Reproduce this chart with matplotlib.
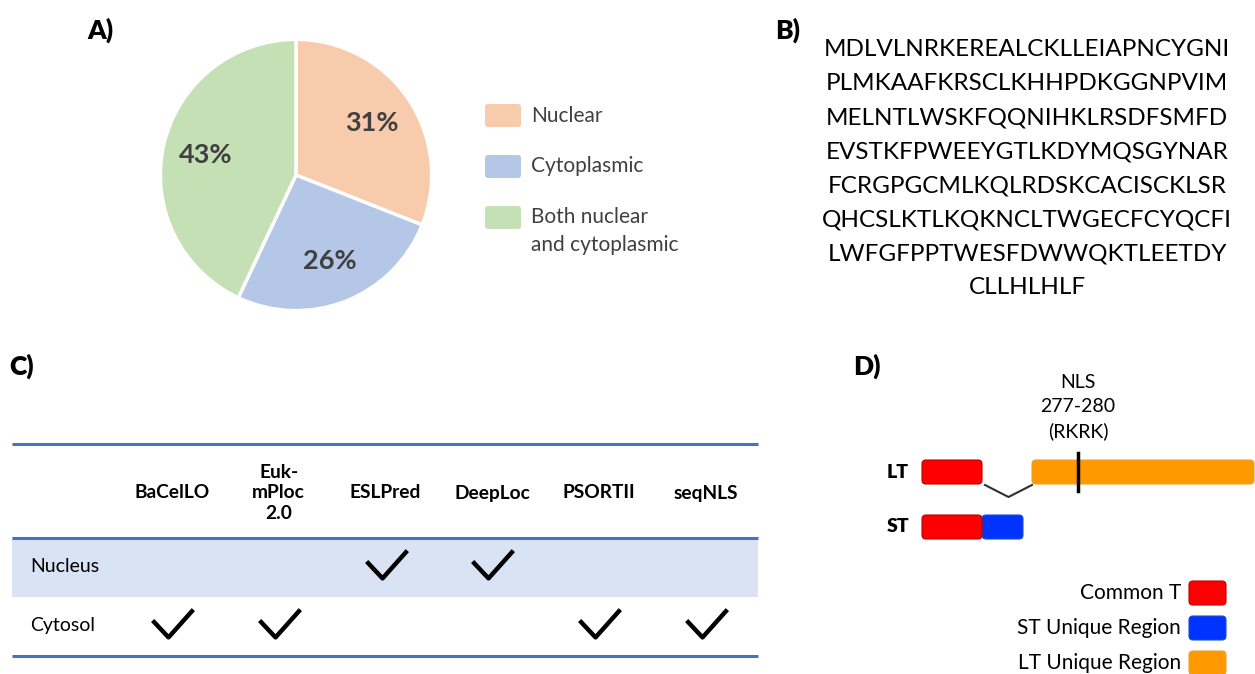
import numpy as np
import matplotlib.pyplot as plt
from matplotlib.patches import FancyBboxPatch, Rectangle
from matplotlib.path import Path

plt.rcParams['font.family'] = ['Lato', 'DejaVu Sans']

# --- A) subcellular distribution (pie) ---
pie_labels = ['Nuclear', 'Cytoplasmic', 'Both nuclear\nand cytoplasmic']
pie_values = [31, 26, 43]
pie_colors = ['#F8CBAD', '#B4C7E7', '#C5E0B4']

# --- B) protein sequence ---
seq_lines = [
    'MDLVLNRKEREALCKLLEIAPNCYGNI',
    'PLMKAAFKRSCLKHHPDKGGNPVIM',
    'MELNTLWSKFQQNIHKLRSDFSMFD',
    'EVSTKFPWEEYGTLKDYMQSGYNAR',
    'FCRGPGCMLKQLRDSKCACISCKLSR',
    'QHCSLKTLKQKNCLTWGECFCYQCFI',
    'LWFGFPPTWESFDWWQKTLEETDY',
    'CLLHLHLF',
]

# --- C) localisation predictions ---
tools = ['BaCelLO', 'Euk-\nmPloc\n2.0', 'ESLPred', 'DeepLoc', 'PSORTII', 'seqNLS']
locations = ['Nucleus', 'Cytosol']
predicted = [[0, 0, 1, 1, 0, 0],
             [1, 1, 0, 0, 1, 1]]

# --- D) T antigen schematic (schematic units) ---
region_names = ['Common T', 'ST Unique Region', 'LT Unique Region']
region_colors = ['#FF0000', '#0033FF', '#FF9900']
region_edges = ['#C00000', '#1A4FD0', '#F0A030']
lt_parts = [(0, 60, 0), (110, 332, 2)]   # start, end, region index
st_parts = [(0, 60, 0), (60, 101, 1)]
nls_pos = 156
nls_text = 'NLS\n277-280\n(RKRK)'

fig = plt.figure(figsize=(12.55, 6.74), dpi=100)
ax = fig.add_axes([0, 0, 1, 1])
ax.set_xlim(0, 1255)
ax.set_ylim(674, 0)
ax.axis('off')

# panel letters
for lab, x, y in [('A)', 87, 30), ('B)', 775, 30), ('C)', 9, 366), ('D)', 853, 366)]:
    ax.text(x, y, lab, fontsize=19, fontweight='heavy', ha='left', va='center')

# ---------------- A ----------------
axp = fig.add_axes([159 / 1255, (674 - 312) / 674, 274 / 1255, 274 / 674])
axp.pie(pie_values, colors=pie_colors, startangle=90, counterclock=False,
        autopct=lambda p: f'{p:.0f}%', pctdistance=0.68,
        wedgeprops=dict(edgecolor='white', linewidth=2.5),
        textprops=dict(fontsize=19.5, fontweight='bold', color='#404040'))
axp.set_xlim(-1.01, 1.01)
axp.set_ylim(-1.01, 1.01)
axp.set_aspect('equal')

for i, (lab, col) in enumerate(zip(pie_labels, pie_colors)):
    yt = 104 + i * 51
    ax.add_patch(FancyBboxPatch((485, yt), 36, 23, boxstyle='round,pad=0,rounding_size=3',
                                fc=col, ec='none'))
    nl = lab.count('\n')
    ax.text(531, yt + 11.5 + nl * 13.5, lab, fontsize=15, color='#404040',
            ha='left', va='center', linespacing=1.5)

# ---------------- B ----------------
for i, line in enumerate(seq_lines):
    ax.text(1027, 50 + i * 34, line, fontsize=17.5, ha='center', va='center', color='black')

# ---------------- C ----------------
t_left, t_right = 12, 758
col_x = 172 + 106.8 * np.arange(len(tools))
row_y = [567, 626]
ax.add_patch(Rectangle((t_left, 538), t_right - t_left, 59, fc='#DAE3F3', ec='none'))
for y in [444, 538, 656]:
    ax.plot([t_left, t_right], [y, y], color='#4472C4', lw=2.2, solid_capstyle='butt')
for x, tool in zip(col_x, tools):
    ax.text(x, 493, tool, fontsize=13.8, fontweight='bold', ha='center', va='center',
            linespacing=1.22)
for y, loc in zip(row_y, locations):
    ax.text(30, y, loc, fontsize=14, ha='left', va='center')

check = Path([(-20, 3), (-4, -14), (21, 14)], [Path.MOVETO, Path.LINETO, Path.LINETO])
for r, y in enumerate(row_y):
    for c, x in enumerate(col_x):
        if predicted[r][c]:
            ax.plot(x, y - 3, marker=check, ms=30, mfc='none', mec='black', mew=3.2, ls='none')

# ---------------- D ----------------
d_x0 = 922
lt_y, st_y, bar_h = 472, 527, 24


def draw_bar(parts, yc):
    for s, e, k in parts:
        ax.add_patch(FancyBboxPatch((d_x0 + s, yc - bar_h / 2), e - s, bar_h,
                                    boxstyle='round,pad=0,rounding_size=4',
                                    fc=region_colors[k], ec=region_edges[k], lw=0.8))


draw_bar(lt_parts, lt_y)
draw_bar(st_parts[::-1], st_y)

gx0 = d_x0 + lt_parts[0][1] + 3
gx1 = d_x0 + lt_parts[1][0]
ax.plot([gx0, (gx0 + gx1) / 2, gx1], [lt_y + 13, lt_y + 25, lt_y + 13], color='#303030', lw=1.5)

ax.plot([d_x0 + nls_pos] * 2, [lt_y - 19, lt_y + 19], color='black', lw=2.5)
ax.text(d_x0 + nls_pos, 407, nls_text, fontsize=14, ha='center', va='center', linespacing=1.5)

ax.text(898, lt_y, 'LT', fontsize=14, fontweight='heavy', ha='center', va='center')
ax.text(898, st_y, 'ST', fontsize=14, fontweight='heavy', ha='center', va='center')

for i, (name, col, ec) in enumerate(zip(region_names, region_colors, region_edges)):
    yc = 593 + i * 35
    ax.add_patch(FancyBboxPatch((1189, yc - 12), 37, 24, boxstyle='round,pad=0,rounding_size=4',
                                fc=col, ec=ec, lw=0.8))
    ax.text(1181, yc, name, fontsize=15, ha='right', va='center')

fig.savefig('out.png', dpi=100)
